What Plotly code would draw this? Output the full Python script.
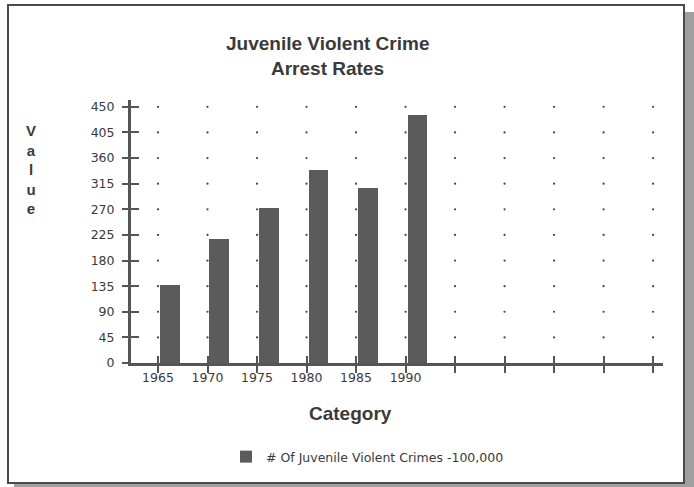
import plotly.graph_objects as go

categories = ["1965", "1970", "1975", "1980", "1985", "1990", "", "", "", "", ""]
values = [137, 218, 273, 339, 308, 435]
y_ticks = [0, 45, 90, 135, 180, 225, 270, 315, 360, 405, 450]
series_name = "# Of Juvenile Violent Crimes -100,000"

W, H = 694, 487
L, R, T, B = 131, 31, 100, 124
PW, PH = W - L - R, H - T - B


def px(x):
    return (x - L) / PW


def py(y):
    return (H - B - y) / PH


cat_pos = list(range(len(categories)))
TXT = "#3a3a3a"
AX = "#555555"
BAR = "#5b5b5b"

fig = go.Figure()

# dotted grid (dots at tick intersections)
gx, gy = [], []
for xv in cat_pos:
    for yv in y_ticks[1:]:
        gx.append(xv)
        gy.append(yv)
fig.add_trace(go.Scatter(x=gx, y=gy, mode="markers",
                         marker=dict(size=2.2, color="#444444"),
                         showlegend=False, hoverinfo="skip"))

fig.add_trace(go.Bar(x=cat_pos[:len(values)], y=values, name=series_name,
                     width=0.4, offset=0.04, marker=dict(color=BAR, line=dict(width=0)),
                     showlegend=True))

# helper trace for the inside half of the crossing ticks
fig.add_trace(go.Scatter(x=[None], y=[None], xaxis="x2", yaxis="y2",
                         showlegend=False, hoverinfo="skip"))

xr = [-0.545, 10.2]
yr = [0, 462]
tickfont = dict(family="DejaVu Sans", size=12.5, color=TXT)

fig.update_layout(
    width=W, height=H,
    margin=dict(l=L, r=R, t=T, b=B),
    paper_bgcolor="white", plot_bgcolor="rgba(0,0,0,0)",
    bargap=0,
    xaxis=dict(range=xr, tickvals=cat_pos, ticktext=categories, showgrid=False,
               zeroline=False, showline=True, linecolor=AX, linewidth=3,
               ticks="outside", ticklen=7, tickwidth=2, tickcolor=AX,
               tickfont=tickfont, ticklabelstandoff=-6),
    yaxis=dict(range=yr, tickvals=y_ticks, showgrid=False, zeroline=False,
               showline=True, linecolor=AX, linewidth=3,
               ticks="outside", ticklen=6, tickwidth=2, tickcolor=AX,
               tickfont=tickfont, ticklabelstandoff=5),
    xaxis2=dict(range=xr, tickvals=cat_pos, overlaying="x", anchor="y2",
                showticklabels=False, showgrid=False, zeroline=False,
                ticks="inside", ticklen=7, tickwidth=2, tickcolor=AX),
    yaxis2=dict(range=yr, tickvals=y_ticks, overlaying="y", anchor="x2", side="left",
                showticklabels=False, showgrid=False, zeroline=False,
                ticks="inside", ticklen=8, tickwidth=2, tickcolor=AX),
    showlegend=True,
    legend=dict(orientation="h", x=px(226), xanchor="left", y=py(457), yanchor="middle",
                font=dict(family="DejaVu Sans", size=12.5, color=TXT),
                bgcolor="rgba(0,0,0,0)"),
)

# frame with shadow
fig.add_shape(type="rect", xref="paper", yref="paper",
              x0=px(14), x1=px(700), y0=py(495), y1=py(12),
              fillcolor="#a0a0a0", line=dict(width=0), layer="below")
fig.add_shape(type="rect", xref="paper", yref="paper",
              x0=px(8), x1=px(684), y0=py(483), y1=py(5),
              fillcolor="white", line=dict(color="#4a4a4a", width=2), layer="below")

tfont = dict(family="Liberation Sans", size=19, color=TXT)
fig.add_annotation(text="<b>Juvenile Violent Crime</b>", xref="paper", yref="paper",
                   x=px(327), y=py(43), xanchor="center", yanchor="middle",
                   showarrow=False, font=tfont)
fig.add_annotation(text="<b>Arrest Rates</b>", xref="paper", yref="paper",
                   x=px(327), y=py(68), xanchor="center", yanchor="middle",
                   showarrow=False, font=tfont)
fig.add_annotation(text="<b>V<br>a<br>l<br>u<br>e</b>", xref="paper", yref="paper",
                   x=px(31), y=py(169), xanchor="center", yanchor="middle", align="center",
                   showarrow=False, font=dict(family="Liberation Sans", size=15, color=TXT))
fig.add_annotation(text="<b>Category</b>", xref="paper", yref="paper",
                   x=px(350), y=py(413), xanchor="center", yanchor="middle",
                   showarrow=False, font=dict(family="Liberation Sans", size=19, color=TXT))

fig.write_html("out.html", config={"displayModeBar": False},
               post_script="document.body.style.margin='0';")
